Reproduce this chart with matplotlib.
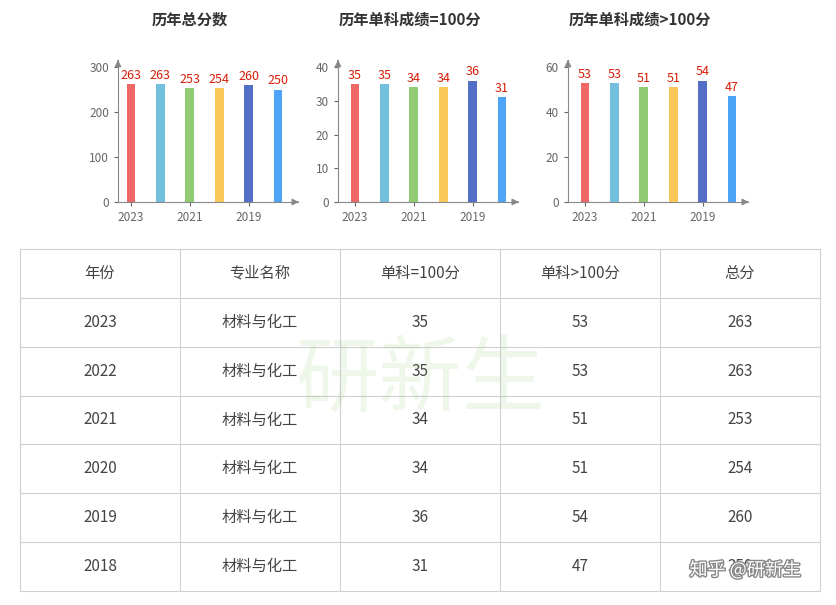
import matplotlib
matplotlib.use("Agg")
import matplotlib.pyplot as plt
import matplotlib.patheffects as pe

plt.rcParams['font.family'] = ['Noto Sans CJK SC', 'DejaVu Sans']

years = ["2023", "2022", "2021", "2020", "2019", "2018"]
major = "材料与化工"
single_eq = [35, 35, 34, 34, 36, 31]
single_gt = [53, 53, 51, 51, 54, 47]
total = [263, 263, 253, 254, 260, 250]
colors = ["#ee6666", "#73c0de", "#91cc75", "#fac858", "#5470c6", "#4ea5f7"]
headers = ["年份", "专业名称", "单科=100分", "单科>100分", "总分"]

W, H = 837, 605
fig = plt.figure(figsize=(W/100, H/100), dpi=100)

def px_axes(x0, y0, x1, y1):
    return fig.add_axes([x0/W, 1-y1/H, (x1-x0)/W, (y1-y0)/H])

charts = [
    ("历年总分数", total, 300, [0, 100, 200, 300], 118, 131),
    ("历年单科成绩=100分", single_eq, 40, [0, 10, 20, 30, 40], 338, 355),
    ("历年单科成绩>100分", single_gt, 60, [0, 20, 40, 60], 568, 585),
]
spacing = 29.4
for title, vals, ymax, yt, axl, b0 in charts:
    right = axl + 180
    ax = px_axes(axl, 60, right, 202)
    x0 = -(b0-axl)/spacing
    ax.set_xlim(x0, x0 + 180/spacing)
    ax.set_ylim(0, ymax*(142/135))
    xs = list(range(len(vals)))
    ax.bar(xs, vals, width=0.3, color=colors)
    for x, v in zip(xs, vals):
        ax.text(x, v + ymax*0.015, str(v), ha='center', va='bottom', color='#d81e06', fontsize=9)
    ax.set_yticks(yt)
    ax.set_xticks([0, 2, 4])
    ax.set_xticklabels([years[0], years[2], years[4]])
    ax.tick_params(colors='#666666', labelsize=8.5, length=3)
    for s in ['top', 'right']:
        ax.spines[s].set_visible(False)
    for s in ['left', 'bottom']:
        ax.spines[s].set_color('#888888')
    ax.annotate('', xy=(1.02, 0), xycoords='axes fraction', xytext=(0.98, 0),
                arrowprops=dict(arrowstyle='-|>', color='#888888', lw=0.8))
    ax.annotate('', xy=(0, 1.02), xycoords='axes fraction', xytext=(0, 0.97),
                arrowprops=dict(arrowstyle='-|>', color='#888888', lw=0.8))
    ax.patch.set_alpha(0)
    fig.text((axl + 72)/W, 1-20/H, title, ha='center', va='center', fontsize=11, fontweight='bold', color='#333333')

# table
tax = fig.add_axes([0, 0, 1, 1])
tax.set_xlim(0, W); tax.set_ylim(H, 0); tax.axis('off')
tl, tr, tt, tb = 20, 820, 249, 591
nrows = 7
rh = (tb-tt)/nrows
cw = (tr-tl)/5
for i in range(nrows+1):
    tax.plot([tl, tr], [tt+i*rh]*2, color='#d0d0d0', lw=0.8)
for j in range(6):
    tax.plot([tl+j*cw]*2, [tt, tb], color='#d0d0d0', lw=0.8)
rows = [headers] + [[years[i], major, str(single_eq[i]), str(single_gt[i]), str(total[i])] for i in range(6)]
for i, r in enumerate(rows):
    for j, c in enumerate(r):
        tax.text(tl+(j+0.5)*cw, tt+(i+0.5)*rh, c, ha='center', va='center', fontsize=11, color='#444444')

# watermarks
fig.text(420/W, 1-380/H, "研新生", ha='center', va='center', fontsize=60, color='#7dc35a', alpha=0.12)
fig.text(745/W, 1-570/H, "知乎 @研新生", ha='center', va='center', fontsize=13, color='white',
         path_effects=[pe.withStroke(linewidth=2, foreground='#888888')])

fig.savefig("out.png", dpi=100)
